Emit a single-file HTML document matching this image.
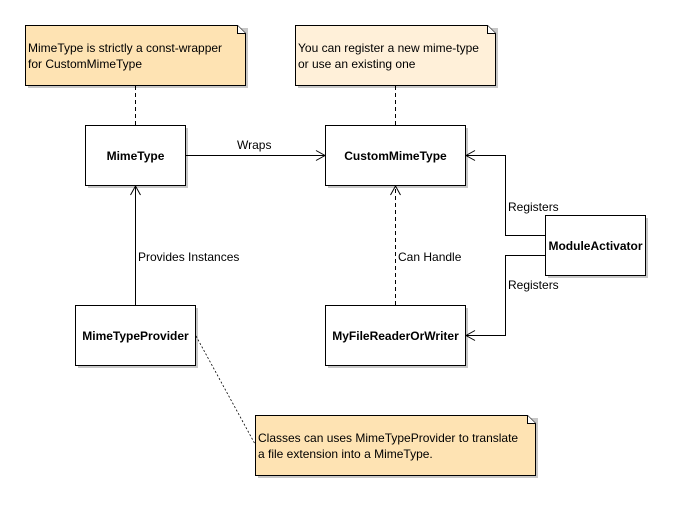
<!DOCTYPE html>
<html><head><style>html,body{margin:0;padding:0;background:#fff}</style></head><body>
<svg width="675" height="505" viewBox="0 0 675 505" xmlns="http://www.w3.org/2000/svg" font-family="'Liberation Sans', sans-serif" font-size="12">
<defs>
<marker id="a" markerWidth="12" markerHeight="12" refX="10" refY="6" orient="auto" markerUnits="userSpaceOnUse"><path d="M1,1 L10,6 L1,11" fill="none" stroke="#000" stroke-width="1"/></marker>
</defs>
<g fill="#c8c8c8">
<rect x="28" y="28" width="220" height="60"/>
<rect x="298" y="28" width="200" height="60"/>
<rect x="258" y="418" width="280" height="60"/>
<rect x="88" y="128" width="100" height="60"/>
<rect x="328" y="128" width="140" height="60"/>
<rect x="548" y="218" width="100" height="60"/>
<rect x="328" y="308" width="140" height="60"/>
<rect x="78" y="308" width="120" height="60"/>
</g>
<g stroke="#000" stroke-width="1">
<path d="M25.5,25.5 H237.5 L245.5,33.5 V85.5 H25.5 Z" fill="#fee3b3"/>
<path d="M237.5,25.5 V33.5 H245.5" fill="#fff"/>
<path d="M295.5,25.5 H487.5 L495.5,33.5 V85.5 H295.5 Z" fill="#fff0d9"/>
<path d="M487.5,25.5 V33.5 H495.5" fill="#fff"/>
<path d="M255.5,415.5 H527.5 L535.5,423.5 V475.5 H255.5 Z" fill="#fee3b3"/>
<path d="M527.5,415.5 V423.5 H535.5" fill="#fff"/>
<g fill="#fff">
<rect x="85.5" y="125.5" width="100" height="60"/>
<rect x="325.5" y="125.5" width="140" height="60"/>
<rect x="545.5" y="215.5" width="100" height="60"/>
<rect x="325.5" y="305.5" width="140" height="60"/>
<rect x="75.5" y="305.5" width="120" height="60"/>
</g>
<g fill="none">
<path d="M135.5,86 V125" stroke-dasharray="4,3"/>
<path d="M395.5,86 V125" stroke-dasharray="4,3"/>
<path d="M186,155.5 H325" marker-end="url(#a)"/>
<path d="M135.5,305 V186" marker-end="url(#a)"/>
<path d="M395.5,305 V186" stroke-dasharray="4,3" marker-end="url(#a)"/>
<path d="M545,235.5 H505.5 V155.5 H466" marker-end="url(#a)"/>
<path d="M545,255.5 H505.5 V335.5 H466" marker-end="url(#a)"/>
<path d="M196,336 L255,444" stroke-dasharray="2,2" stroke-width="0.8"/>
</g>
</g>
<g fill="#000">
<text x="28" y="52">MimeType is strictly a const-wrapper</text>
<text x="28" y="68">for CustomMimeType</text>
<text x="298" y="52">You can register a new mime-type</text>
<text x="298" y="68">or use an existing one</text>
<text x="258" y="442">Classes can uses MimeTypeProvider to translate</text>
<text x="258" y="458">a file extension into a MimeType.</text>
<g font-weight="bold" text-anchor="middle">
<text x="135.5" y="160">MimeType</text>
<text x="395.5" y="160">CustomMimeType</text>
<text x="595.5" y="250">ModuleActivator</text>
<text x="395.5" y="340">MyFileReaderOrWriter</text>
<text x="135.5" y="340">MimeTypeProvider</text>
</g>
<text x="237" y="149">Wraps</text>
<text x="138" y="261">Provides Instances</text>
<text x="398" y="261">Can Handle</text>
<text x="508" y="211">Registers</text>
<text x="508" y="289">Registers</text>
</g>
</svg>
</body></html>
